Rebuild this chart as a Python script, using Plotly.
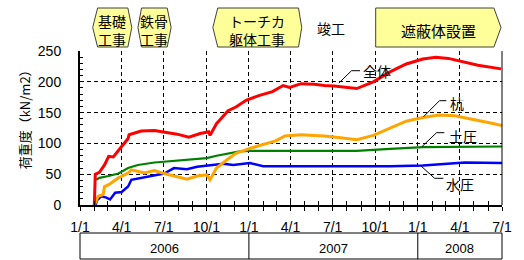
import plotly.graph_objects as go
import pandas as pd

# ---------------- data ----------------
red_dates = ["2006-02-01","2006-02-03","2006-02-12","2006-02-23","2006-03-04","2006-03-14","2006-04-01",
             "2006-04-15","2006-04-17","2006-05-13","2006-06-11","2006-07-09","2006-07-30","2006-08-24",
             "2006-09-18","2006-10-06","2006-10-09","2006-10-23","2006-11-17","2006-12-04","2006-12-26",
             "2007-01-24","2007-02-21","2007-03-16","2007-03-30","2007-04-24","2007-05-22","2007-06-13",
             "2007-07-04","2007-08-22","2007-09-27","2007-11-02","2007-12-07","2008-01-12","2008-02-09",
             "2008-03-07","2008-04-05","2008-05-10","2008-06-29"]
red_vals = [0, 50, 53, 65, 79, 78, 95, 108, 114, 120, 121, 117, 115, 110, 116, 119, 113, 132, 153, 159,
            170, 178, 184, 194, 191, 197, 196, 194, 193, 189, 200, 216, 229, 237, 240, 238, 233, 227, 221]

orange_dates = ["2006-02-01","2006-02-09","2006-02-20","2006-02-23","2006-03-04","2006-03-25","2006-04-15",
                "2006-04-22","2006-05-20","2006-06-11","2006-07-02","2006-07-23","2006-08-20","2006-09-11",
                "2006-10-02","2006-10-09","2006-10-23","2006-11-14","2006-12-04","2007-01-03","2007-02-01",
                "2007-02-28","2007-03-20","2007-04-24","2007-05-22","2007-06-13","2007-07-18","2007-08-22",
                "2007-09-27","2007-11-02","2007-12-07","2008-01-12","2008-02-16","2008-03-21","2008-04-26",
                "2008-06-01","2008-07-01"]
orange_vals = [0, 14, 17, 30, 33, 44, 52, 57, 52, 56, 51, 47, 42, 47, 49, 41, 60, 73, 84, 92, 98, 104, 112,
               114, 113, 112, 109, 106, 113, 125, 136, 142, 146, 145, 140, 134, 129]

green_dates = ["2006-02-05","2006-02-12","2006-03-04","2006-03-25","2006-04-15","2006-05-06","2006-06-11",
               "2006-07-16","2006-08-20","2006-10-02","2006-10-23","2006-11-21","2006-12-12","2007-01-03",
               "2007-02-28","2007-06-13","2007-08-22","2007-11-02","2008-01-12","2008-07-01"]
green_vals = [41, 44, 47, 51, 60, 65, 69, 71, 73, 76, 80, 84, 87, 88, 88, 89, 88, 91, 94, 95]

blue_dates = ["2006-02-04","2006-02-06","2006-02-16","2006-02-27","2006-03-07","2006-03-18","2006-04-01",
              "2006-04-15","2006-04-22","2006-05-13","2006-06-04","2006-07-02","2006-07-23","2006-08-20",
              "2006-09-11","2006-10-09","2006-11-07","2006-11-28","2007-01-03","2007-02-01","2007-03-13",
              "2007-05-08","2007-06-13","2007-08-22","2007-11-02","2008-01-12","2008-04-12","2008-07-01"]
blue_vals = [0, 7, 14, 12, 9, 20, 21, 30, 41, 44, 48, 51, 60, 58, 62, 65, 67, 65, 68, 63, 63, 62, 63, 63,
             63, 64, 69, 68]

series_names = ["全体", "杭", "土圧", "水圧"]
quarter_ticks = ["2006-01-01","2006-04-01","2006-07-01","2006-10-01","2007-01-01","2007-04-01",
                 "2007-07-01","2007-10-01","2008-01-01","2008-04-01","2008-07-01"]
quarter_labels = ["1/1","4/1","7/1","10/1","1/1","4/1","7/1","10/1","1/1","4/1","7/1"]
years = ["2006", "2007", "2008"]
year_bounds = ["2006-01-01", "2007-01-01", "2008-01-01", "2008-07-01"]
x_start, x_end = "2006-01-01", "2008-07-01"

# ---------------- geometry helpers ----------------
W, H = 524, 260
L, R, T, B = 80, 12, 51, 55
PW, PH = W - L - R, H - T - B
def px(x): return (x - L) / PW
def py(y): return (H - B - y) / PH
t0, t1 = pd.Timestamp(x_start), pd.Timestamp(x_end)
def dx(d): return (pd.Timestamp(d) - t0) / (t1 - t0)

JP = "Noto Sans CJK JP"
NUM = "Liberation Sans, Arial, sans-serif"

fig = go.Figure()
for name, xs, ys, col, w in [
    ("水圧", blue_dates, blue_vals, "#0000FF", 2.5),
    ("土圧", green_dates, green_vals, "#008000", 2.2),
    ("杭", orange_dates, orange_vals, "#FFA500", 3),
    ("全体", red_dates, red_vals, "#FF0000", 3),
]:
    fig.add_trace(go.Scatter(x=xs, y=ys, mode="lines", name=name,
                             line=dict(color=col, width=w), showlegend=False))
# helper trace for the inner tick axis
fig.add_trace(go.Scatter(x=[x_start], y=[None], xaxis="x2", yaxis="y", showlegend=False,
                         hoverinfo="skip"))

grid = dict(showgrid=True, gridcolor="black", gridwidth=1, griddash="4px,3px")
fig.update_layout(
    width=W, height=H, margin=dict(l=L, r=R, t=T, b=B),
    paper_bgcolor="white", plot_bgcolor="white",
    font=dict(family=NUM, size=14, color="black"),
    xaxis=dict(type="date", range=[x_start, x_end], tickmode="array",
               tickvals=quarter_ticks, ticktext=quarter_labels,
               ticks="outside", ticklen=4, tickcolor="black", tickwidth=1,
               minor=dict(dtick="M1", tick0="2006-01-01", ticks="outside", ticklen=4,
                          tickcolor="black", showgrid=False),
               ticklabelstandoff=4, showline=True, linecolor="black", linewidth=2,
               zeroline=False, tickfont=dict(size=14, family=NUM), **grid),
    xaxis2=dict(type="date", range=[x_start, x_end], overlaying="x", anchor="y",
                side="bottom", dtick="M1", tick0="2006-01-01", ticks="inside", ticklen=4,
                tickcolor="black", showticklabels=False, showgrid=False, showline=False,
                zeroline=False),
    yaxis=dict(range=[0, 250], dtick=50, ticks="inside", ticklen=4, tickcolor="black",
               minor=dict(dtick=10, ticks="inside", ticklen=3, tickcolor="black", showgrid=False),
               showline=True, linecolor="black", linewidth=2, zeroline=False,
               ticklabelstandoff=14, tickfont=dict(size=14, family=NUM), **grid),
)

shapes = []
# right border
shapes.append(dict(type="line", xref="paper", yref="paper", x0=1, x1=1, y0=0, y1=1,
                   line=dict(color="black", width=1)))
# year table
yt, yb = py(233), py(259)
shapes.append(dict(type="rect", xref="paper", yref="paper", x0=dx(year_bounds[0]),
                   x1=dx(year_bounds[-1]), y0=yb, y1=yt, line=dict(color="black", width=1)))
for d in year_bounds[1:-1]:
    shapes.append(dict(type="line", xref="paper", yref="paper", x0=dx(d), x1=dx(d), y0=yb, y1=yt,
                       line=dict(color="black", width=1)))
annotations = []
def note(text, x, y, size, family, **kw):
    d = dict(text=text, xref="paper", yref="paper", x=x, y=y, showarrow=False,
             xanchor="center", yanchor="middle", font=dict(size=size, family=family, color="black"))
    d.update(kw)
    annotations.append(d)

for i, yname in enumerate(years):
    c = (dx(year_bounds[i]) + dx(year_bounds[i + 1])) / 2
    note(yname, c, py(248), 13, NUM)

# top schedule boxes
BOX_FILL, BOX_LINE = "#FFFF99", "#404040"
ytop, ybot, ymid = py(8), py(47), py(27.5)
def hexa(a, b, c, d):
    return (f"M {px(a)} {ymid} L {px(b)} {ytop} L {px(c)} {ytop} L {px(d)} {ymid} "
            f"L {px(c)} {ybot} L {px(b)} {ybot} Z")
for a, b, c, d in [(93, 98, 129, 133), (139.3, 143, 169.3, 173.3), (216, 221, 303.7, 307)]:
    shapes.append(dict(type="path", xref="paper", yref="paper", path=hexa(a, b, c, d),
                       fillcolor=BOX_FILL, line=dict(color=BOX_LINE, width=1)))
shapes.append(dict(type="path", xref="paper", yref="paper",
                   path=(f"M {px(382.7)} {ytop} L {px(503.7)} {ytop} L {px(511)} {ymid} "
                         f"L {px(503.7)} {ybot} L {px(382.7)} {ybot} Z"),
                   fillcolor=BOX_FILL, line=dict(color=BOX_LINE, width=1)))
for txt, x, y, s in [("基礎<br>工事", 113, 30, 14), ("鉄骨<br>工事", 156, 30, 14),
                     ("トーチカ<br>躯体工事", 261, 29.5, 14),
                     ("竣工", 337, 28, 14), ("遮蔽体設置", 446.5, 31, 15)]:
    note(txt, px(x), py(y), s, JP)

# series labels with leader lines
leaders = [
    ("全体", [(345, 83), (358, 70.7), (366.7, 70.7)], 368, 71),
    ("杭", [(431.7, 116.7), (448, 100.7), (455, 100.7)], 457, 102.5),
    ("土圧", [(430, 146.7), (445, 132.7), (453, 132.7)], 456, 136),
    ("水圧", [(428, 165), (443, 178.3), (452, 178.3)], 453, 184),
]
for name, pts, lx, ly in leaders:
    path = "M " + " L ".join(f"{px(a)} {py(b)}" for a, b in pts)
    shapes.append(dict(type="path", xref="paper", yref="paper", path=path,
                       line=dict(color="black", width=1)))
    note(name, px(lx), py(ly), 14, JP, xanchor="left")

# y-axis title
note("荷重度（kN/m2）", px(23), py(116), 13, JP, textangle=-90)

fig.update_layout(shapes=shapes, annotations=annotations)
fig.write_html("out.html", config={"displayModeBar": False},
               post_script="document.body.style.margin='0';document.body.style.padding='0';")
